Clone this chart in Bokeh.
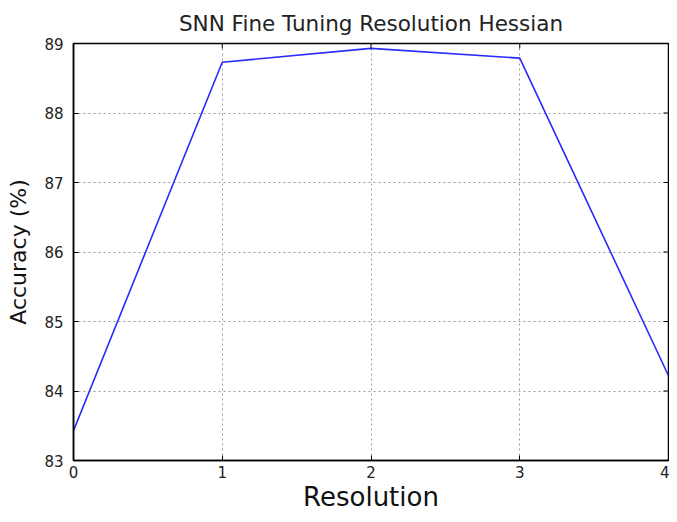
import math
from bokeh.plotting import figure
from bokeh.models import Range1d, FixedTicker
from bokeh.embed import file_html
from bokeh.resources import INLINE

resolution = [0, 1, 2, 3, 4]
accuracy = [83.43, 88.73, 88.93, 88.79, 84.22]
x_ticks = [0, 1, 2, 3, 4]
y_ticks = [83, 84, 85, 86, 87, 88, 89]

FONT = "DejaVu Sans"
X_MIN, X_MAX = 0, 4
Y_MIN, Y_MAX = 83, 89

p = figure(width=669, height=514, output_backend="svg", toolbar_location=None,
           x_range=Range1d(X_MIN, X_MAX), y_range=Range1d(Y_MIN, Y_MAX),
           title="SNN Fine Tuning Resolution Hessian",
           min_border_left=73, min_border_right=1, min_border_top=42, min_border_bottom=54)

p.title.text_font = FONT
p.title.text_font_size = "21.5px"
p.title.text_font_style = "normal"
p.title.text_color = "#222222"
p.title.align = "center"
p.title.standoff = 16

p.line(resolution, accuracy, line_color="#2a2aff", line_width=1.6)

p.outline_line_color = "black"
p.outline_line_width = 1.5
p.outline_line_alpha = 1
p.background_fill_color = "white"
p.border_fill_color = "white"

for g in (p.xgrid, p.ygrid):
    g.grid_line_color = "#9a9a9a"
    g.grid_line_dash = "2 3"
    g.grid_line_width = 1

p.xgrid.ticker = FixedTicker(ticks=x_ticks)
p.ygrid.ticker = FixedTicker(ticks=y_ticks)

for ax, ticks in ((p.xaxis[0], x_ticks), (p.yaxis[0], y_ticks)):
    ax.ticker = FixedTicker(ticks=ticks)
    ax.axis_line_color = "black"
    ax.axis_line_width = 1.5
    ax.major_tick_in = 5
    ax.major_tick_out = 0
    ax.major_tick_line_color = "black"
    ax.minor_tick_line_color = None
    ax.major_label_text_font = FONT
    ax.major_label_text_font_size = "15px"
    ax.major_label_text_color = "#222222"
    ax.axis_label_text_font = FONT
    ax.axis_label_text_font_style = "normal"
    ax.axis_label_text_color = "#111111"

p.xaxis.axis_label = "Resolution"
p.xaxis.axis_label_text_font_size = "26px"
p.xaxis.major_label_standoff = 5
p.xaxis.axis_label_standoff = 1

p.yaxis.axis_label = "Accuracy (%)"
p.yaxis.axis_label_text_font_size = "22px"
p.yaxis.major_label_standoff = 10
p.yaxis.axis_label_standoff = 10

# mirrored inward ticks on top and right edges
p.ray(x=x_ticks, y=[Y_MAX] * len(x_ticks), length=5, length_units="screen",
      angle=-math.pi / 2, line_color="black", line_width=1)
p.ray(x=[X_MAX] * len(y_ticks), y=y_ticks, length=5, length_units="screen",
      angle=math.pi, line_color="black", line_width=1)

open("out.html", "w").write(file_html(p, INLINE))
